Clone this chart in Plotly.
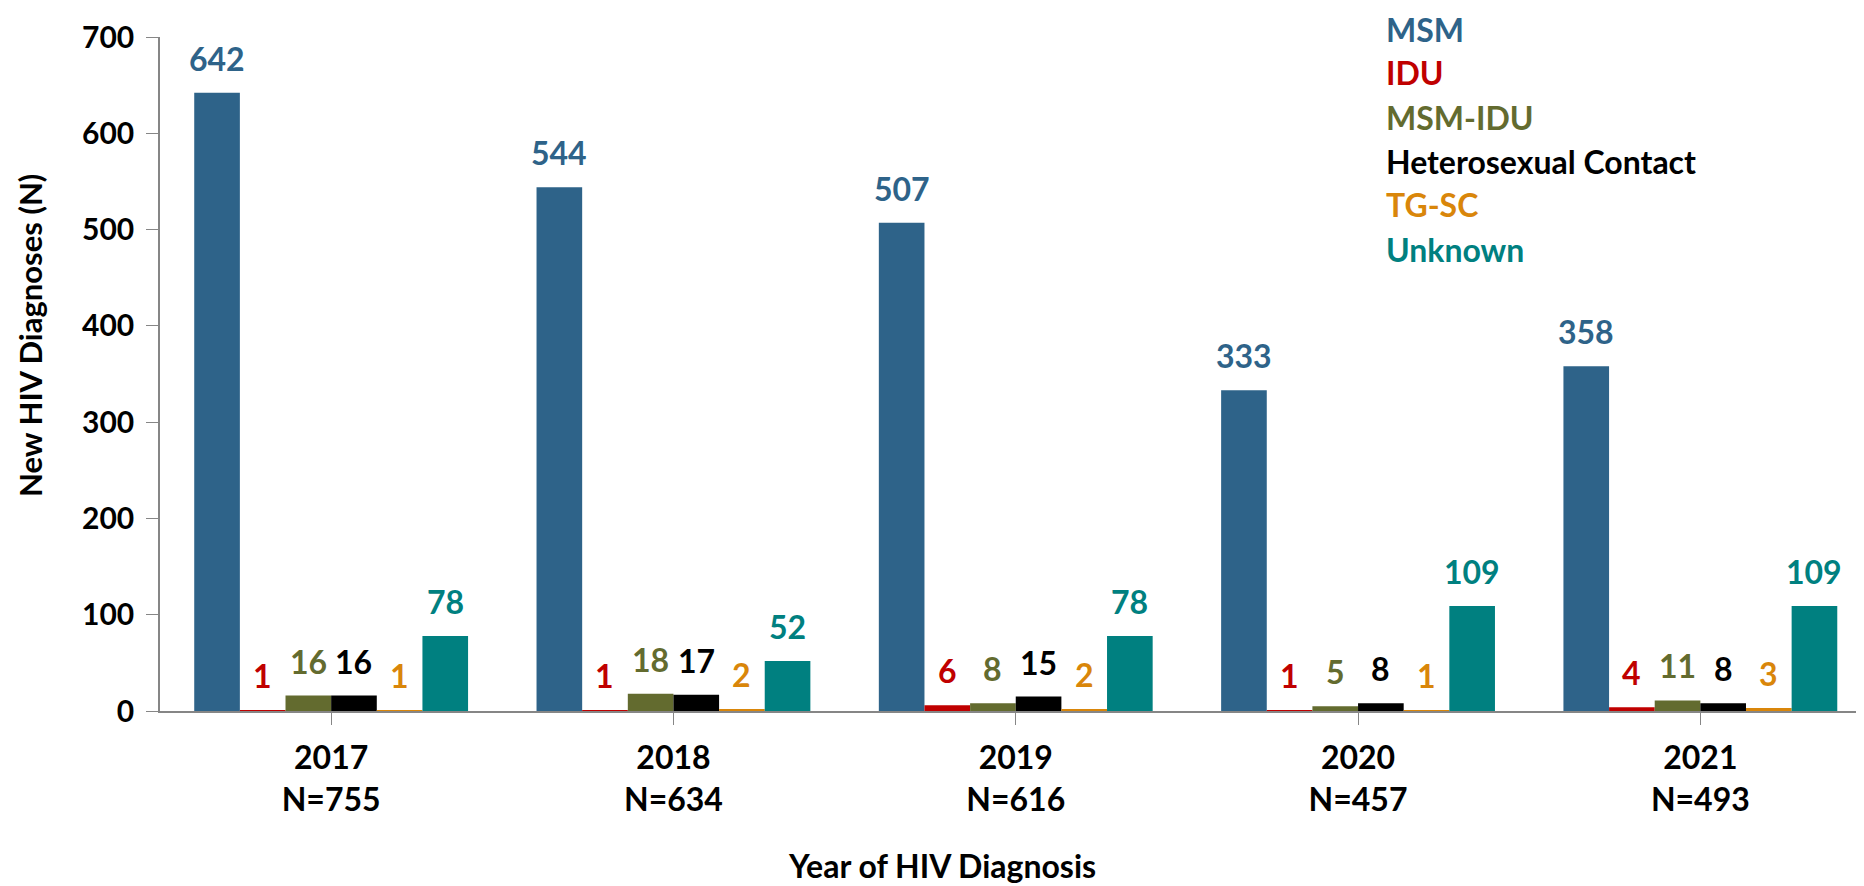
import plotly.graph_objects as go

years = ["2017", "2018", "2019", "2020", "2021"]
totals = ["N=755", "N=634", "N=616", "N=457", "N=493"]
series_names = ["MSM", "IDU", "MSM-IDU", "Heterosexual Contact", "TG-SC", "Unknown"]
msm = [642, 544, 507, 333, 358]
idu = [1, 1, 6, 1, 4]
msm_idu = [16, 18, 8, 5, 11]
hetero = [16, 17, 15, 8, 8]
tg_sc = [1, 2, 2, 1, 3]
unknown = [78, 52, 78, 109, 109]
colors = ["#2E6389", "#C00000", "#636B2F", "#000000", "#D9860A", "#008080"]
y_ticks = [0, 100, 200, 300, 400, 500, 600, 700]

series = [msm, idu, msm_idu, hetero, tg_sc, unknown]
FONT = "Lato"
# page has an 8px body margin, so the figure is 8px smaller than the window
W, H = 1856, 878
ML, MT, MB = 152, 29, 175
MR = 0
cat_px = 342.3
x_idx = list(range(len(years)))
bargap = 0.2
nser = len(series)

fig = go.Figure()
for name, vals, col in zip(series_names, series, colors):
    fig.add_trace(go.Bar(x=x_idx, y=vals, name=name, marker=dict(color=col, line=dict(width=0)),
                         showlegend=False))

annotations = []
slot = (1 - bargap) / nser
for si, (vals, col) in enumerate(zip(series, colors)):
    off = (si - (nser - 1) / 2) * slot
    for ci, v in enumerate(vals):
        annotations.append(dict(x=ci + off, y=v, xref="x", yref="y", text=f"<b>{v}</b>",
                                showarrow=False, yanchor="bottom", yshift=13,
                                font=dict(family=FONT, size=32, color=col)))

plot_h = H - MT - MB
plot_w = W - ML - MR


def px_to_paper(px, py):
    return (px - ML) / plot_w, 1 - (py - MT) / plot_h


leg_x_px = 1377
leg_y_px = [22, 65, 109, 153, 197, 241]
for name, col, py in zip(series_names, colors, leg_y_px):
    ax, ay = px_to_paper(leg_x_px, py)
    annotations.append(dict(x=ax, y=ay, xref="paper", yref="paper",
                            text=f"<b>{name}</b>", showarrow=False, xanchor="left", yanchor="middle",
                            borderpad=0,
                            font=dict(family=FONT, size=32, color=col)))

tx, ty = px_to_paper(934, 858)
annotations.append(dict(x=tx, y=ty, xref="paper", yref="paper",
                        text="<b>Year of HIV Diagnosis</b>", showarrow=False, xanchor="center", yanchor="middle",
                        font=dict(family=FONT, size=32, color="black")))
tx, ty = px_to_paper(22, 328)
annotations.append(dict(x=tx, y=ty, xref="paper", yref="paper",
                        text="<b>New HIV Diagnoses (N)</b>", showarrow=False, textangle=-90,
                        xanchor="center", yanchor="middle",
                        font=dict(family=FONT, size=31, color="black")))

x_end = 4.5 - ((ML + 5 * cat_px) - W) / cat_px

fig.update_layout(
    width=W, height=H,
    margin=dict(l=ML, r=MR, t=MT, b=MB, autoexpand=False),
    paper_bgcolor="white", plot_bgcolor="white",
    barmode="group", bargap=bargap, bargroupgap=0,
    annotations=annotations,
    xaxis=dict(range=[-0.5, x_end], tickvals=x_idx,
               ticktext=[f"{y}<br>{n}" for y, n in zip(years, totals)],
               tickson="boundaries", ticks="outside", ticklen=12, tickcolor="#868686",
               showline=True, linecolor="#868686", linewidth=1.5, showgrid=False, zeroline=False,
               ticklabelstandoff=6, automargin=False,
               tickfont=dict(family=FONT, size=32, color="black", weight="bold")),
    yaxis=dict(range=[0, 700], tickvals=y_ticks, ticks="outside", ticklen=12, tickcolor="#868686",
               showline=True, linecolor="#868686", linewidth=1.5, showgrid=False, zeroline=False,
               ticklabelstandoff=6, automargin=False,
               tickfont=dict(family=FONT, size=30, color="black", weight="bold")),
)

fig.write_html("out.html")
